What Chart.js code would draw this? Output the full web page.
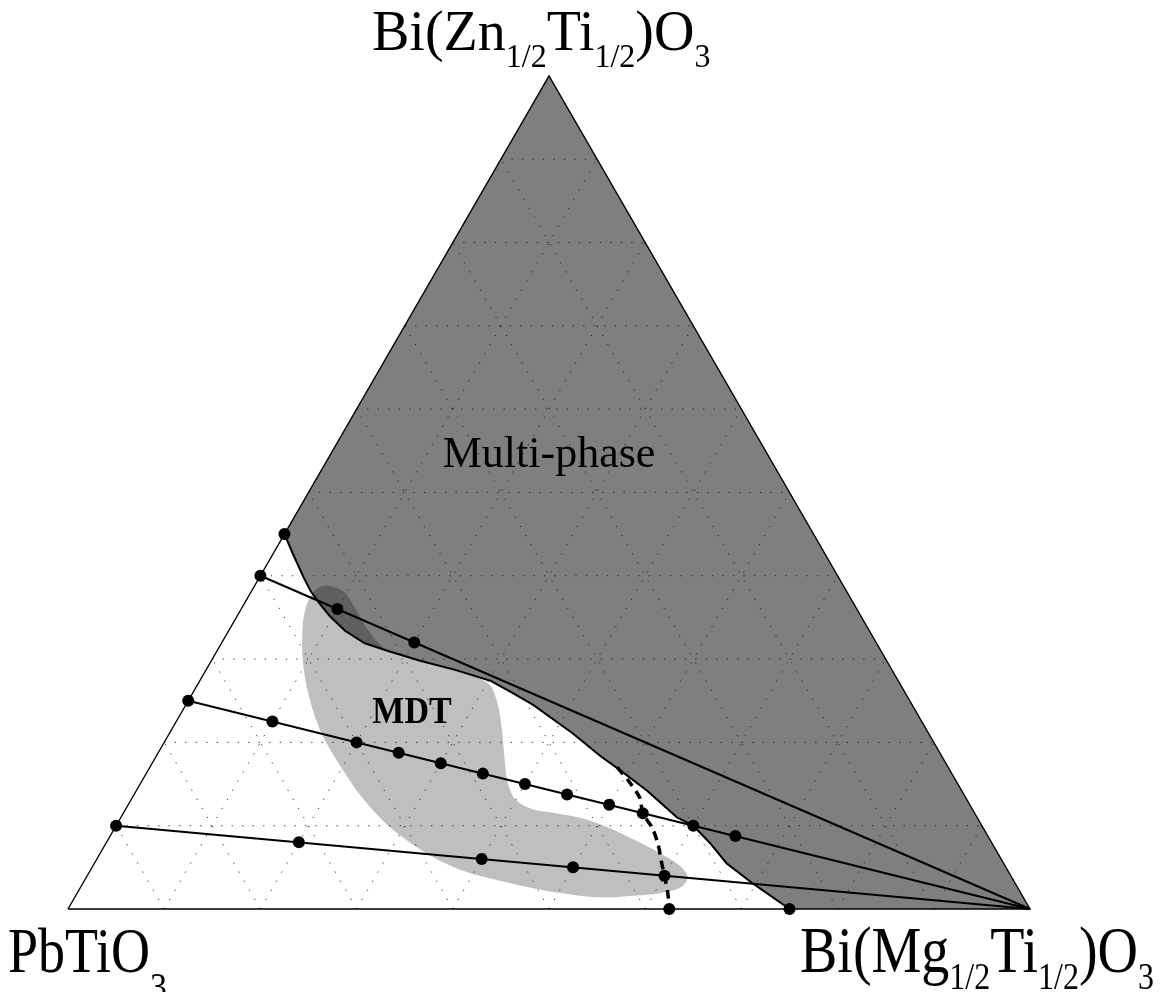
<!DOCTYPE html>
<html>
<head>
<meta charset="utf-8">
<script src="https://cdn.jsdelivr.net/npm/chart.js@4.4.0/dist/chart.umd.min.js"></script>
<style>
  html, body { margin: 0; padding: 0; background: #fff; }
  canvas { display: block; }
</style>
</head>
<body>
<canvas id="chart" width="1170" height="992"></canvas>
<script>
// Compositions are mole fractions written as [BMT, BZT];
// PbTiO3 makes up the rest (1 - BMT - BZT).

// BZT share of the PbTiO3–BZT end member of each pseudo-binary series
const seriesBZTShare = [0.40, 0.25, 0.10];
// BMT additions sampled along each series
const seriesBMT40 = [0, 0.1, 0.2];
const seriesBMT25 = [0, 0.1, 0.2, 0.25, 0.3, 0.35, 0.4, 0.45, 0.5, 0.54, 0.6, 0.65];
const seriesBMT10 = [0, 0.2, 0.4, 0.5, 0.6];
// Binary-edge compositions
const edgeSamples = [[0, 0.45], [0.625, 0], [0.75, 0]];

// Single-phase / multi-phase limit
const multiPhaseBoundary = [
  [0.000, 0.450], [0.020, 0.427], [0.045, 0.399], [0.062, 0.381], [0.079, 0.366],
  [0.097, 0.351], [0.121, 0.334], [0.149, 0.319], [0.180, 0.309], [0.217, 0.298],
  [0.259, 0.287], [0.302, 0.274], [0.333, 0.259], [0.361, 0.245], [0.419, 0.211],
  [0.461, 0.184], [0.490, 0.167], [0.531, 0.142], [0.578, 0.110], [0.600, 0.100],
  [0.628, 0.079], [0.657, 0.055], [0.696, 0.031], [0.750, 0.000]
];

// Region of the morphotropic phase transition (MDT)
const mdtRegion = [
  [0.078, 0.388], [0.096, 0.381], [0.114, 0.365], [0.138, 0.341], [0.162, 0.320],
  [0.180, 0.309], [0.217, 0.298], [0.259, 0.287], [0.301, 0.271], [0.320, 0.251],
  [0.340, 0.221], [0.361, 0.185], [0.381, 0.152], [0.400, 0.131], [0.422, 0.120],
  [0.450, 0.115], [0.480, 0.109], [0.512, 0.098], [0.547, 0.083], [0.582, 0.067],
  [0.610, 0.052], [0.625, 0.038], [0.624, 0.026], [0.606, 0.019], [0.580, 0.016],
  [0.546, 0.014], [0.510, 0.018], [0.471, 0.025], [0.432, 0.034], [0.393, 0.044],
  [0.353, 0.060], [0.315, 0.080], [0.277, 0.104], [0.235, 0.137], [0.197, 0.172],
  [0.158, 0.211], [0.126, 0.251], [0.098, 0.293], [0.079, 0.329], [0.067, 0.359],
  [0.065, 0.378], [0.069, 0.387], [0.078, 0.388]
];

// Tetragonal / rhombohedral phase boundary (dashed)
const dashedBoundary = [
  [0.486, 0.170], [0.509, 0.151], [0.528, 0.133], [0.540, 0.115], [0.559, 0.097],
  [0.575, 0.077], [0.589, 0.056], [0.600, 0.040], [0.614, 0.019], [0.625, 0.000]
];

// Composition grid, 10 mol% steps
const gridSteps = [0.1, 0.2, 0.3, 0.4, 0.5, 0.6, 0.7, 0.8, 0.9];

// ---------------------------------------------------------------------------

const H = Math.sqrt(3) / 2;
const toXY = ([bmt, bzt]) => ({ x: bmt + bzt / 2, y: bzt * H });
const seriesComps = (share, bmts) => bmts.map(t => [t, share * (1 - t)]);

function lineSet(comps, extra) {
  return Object.assign({
    data: comps.map(toXY),
    showLine: true,
    pointRadius: 0,
    borderColor: '#000',
    borderWidth: 2,
    tension: 0,
    fill: false
  }, extra);
}

const datasets = [];

// multi-phase field: apex, BMT corner, along the boundary back to the PT–BZT edge
const multiPhaseField = [[0, 1], [1, 0]].concat(multiPhaseBoundary.slice().reverse(), [[0, 1]]);
datasets.push(lineSet(multiPhaseField, {
  borderWidth: 0, borderColor: 'rgba(0,0,0,0)',
  backgroundColor: '#7f7f7f', fill: 'shape', order: 100
}));

// MDT field, translucent so it darkens where it overlaps the multi-phase field
datasets.push(lineSet(mdtRegion, {
  borderWidth: 0, borderColor: 'rgba(0,0,0,0)',
  backgroundColor: 'rgba(0,0,0,0.25)', fill: 'shape', tension: 0.35, order: 90
}));

// dotted composition grid
gridSteps.forEach(f => {
  const dotted = { borderWidth: 1, borderColor: 'rgba(20,20,20,0.85)', borderDash: [1.3, 9.2], order: 80 };
  datasets.push(lineSet([[0, f], [1 - f, f]], dotted));       // constant BZT
  datasets.push(lineSet([[f, 0], [f, 1 - f]], dotted));       // constant BMT
  datasets.push(lineSet([[1 - f, 0], [0, 1 - f]], dotted));   // constant PbTiO3
});

// triangle frame
datasets.push(lineSet([[0, 0], [1, 0], [0, 1], [0, 0]], { borderWidth: 1.4, order: 70 }));

// phase boundary of the multi-phase field
datasets.push(lineSet(multiPhaseBoundary, { borderWidth: 2, order: 60 }));

// pseudo-binary series running to the BMT corner
seriesBZTShare.forEach(share => {
  datasets.push(lineSet([[0, share], [1, 0]], { borderWidth: 2, order: 50 }));
});

// dashed boundary
datasets.push(lineSet(dashedBoundary, { borderWidth: 3.5, borderDash: [9, 6], tension: 0.3, order: 40 }));

// prepared compositions
const samples = []
  .concat(seriesComps(seriesBZTShare[0], seriesBMT40))
  .concat(seriesComps(seriesBZTShare[1], seriesBMT25))
  .concat(seriesComps(seriesBZTShare[2], seriesBMT10))
  .concat(edgeSamples);
datasets.push({
  data: samples.map(toXY),
  showLine: false,
  pointRadius: 6,
  pointBackgroundColor: '#000',
  pointBorderColor: '#000',
  pointBorderWidth: 0,
  order: 10
});

// ---------------------------------------------------------------------------
// Corner labels with subscripts, region labels

const SERIF = '"Liberation Serif", "Times New Roman", serif';

function drawFormula(ctx, parts, x, y, opt) {
  ctx.save();
  ctx.translate(x, y);
  ctx.scale(1, opt.sy || 1);
  ctx.fillStyle = '#000';
  ctx.textBaseline = 'alphabetic';
  ctx.textAlign = 'left';
  let cx = 0;
  parts.forEach(([text, sub]) => {
    ctx.font = (sub ? opt.sub : opt.size) + 'px ' + SERIF;
    ctx.fillText(text, cx, sub ? opt.drop : 0);
    cx += ctx.measureText(text).width;
  });
  ctx.restore();
}

const labelPlugin = {
  id: 'ternaryLabels',
  afterDraw(chart) {
    const ctx = chart.ctx;
    const px = c => {
      const p = toXY(c);
      return [chart.scales.x.getPixelForValue(p.x), chart.scales.y.getPixelForValue(p.y)];
    };
    const [tx, ty] = px([0, 1]);
    const [lx, ly] = px([0, 0]);
    const [rx, ry] = px([1, 0]);

    drawFormula(ctx, [['Bi(Zn', 0], ['1/2', 1], ['Ti', 0], ['1/2', 1], [')O', 0], ['3', 1]],
      tx - 177, ty - 26, { size: 56, sub: 32, drop: 17, sy: 1.02 });
    drawFormula(ctx, [['PbTiO', 0], ['3', 1]],
      lx - 60, ly + 63, { size: 54, sub: 34, drop: 24, sy: 1.17 });
    drawFormula(ctx, [['Bi(Mg', 0], ['1/2', 1], ['Ti', 0], ['1/2', 1], [')O', 0], ['3', 1]],
      rx - 230, ry + 63, { size: 56, sub: 32, drop: 14, sy: 1.18 });

    ctx.save();
    ctx.fillStyle = '#000';
    ctx.textBaseline = 'alphabetic';
    ctx.textAlign = 'center';
    ctx.font = '44px ' + SERIF;
    ctx.fillText('Multi-phase', tx, ty + 391);
    ctx.translate(lx + 344, ly - 186);
    ctx.scale(1, 1.1);
    ctx.font = 'bold 34px ' + SERIF;
    ctx.fillText('MDT', 0, 0);
    ctx.restore();
  }
};

// Axis limits place the unit triangle inside the canvas (1 unit = 962 px)
const UNIT = 962;
new Chart(document.getElementById('chart'), {
  type: 'scatter',
  data: { datasets },
  options: {
    responsive: false,
    animation: false,
    layout: { padding: 0, autoPadding: false },
    plugins: { legend: { display: false }, tooltip: { enabled: false } },
    scales: {
      x: { type: 'linear', display: false, min: -68 / UNIT, max: 1102 / UNIT },
      y: { type: 'linear', display: false, min: -83 / UNIT, max: 909 / UNIT }
    }
  },
  plugins: [labelPlugin]
});
</script>
</body>
</html>
